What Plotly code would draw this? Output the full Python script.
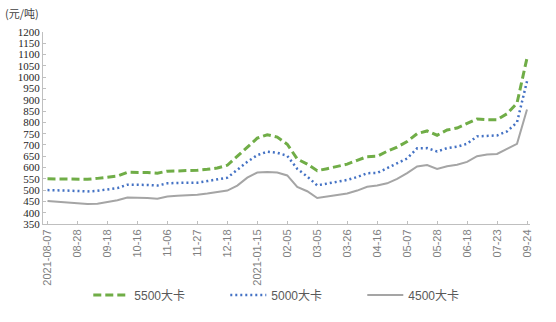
import plotly.graph_objects as go

# Weekly thermal coal prices (元/吨) by calorific grade
tick_labels = ["2021-08-07", "08-28", "09-18", "10-16", "11-06", "11-27", "12-18",
               "2021-01-15", "02-05", "03-05", "03-26", "04-16", "05-07", "05-28",
               "06-18", "07-23", "09-24"]

kcal_5500 = [550, 550, 550, 550, 548, 552, 557, 562, 579, 579, 578, 575, 584, 585,
             585, 588, 592, 598, 610, 650, 690, 730, 745, 735, 703, 638, 615, 586,
             595, 605, 615, 632, 648, 650, 672, 690, 715, 750, 762, 743, 766, 775,
             795, 815, 812, 812, 838, 885, 1085]
kcal_5000 = [500, 500, 498, 496, 494, 497, 502, 509, 524, 524, 523, 520, 530, 532,
             532, 533, 540, 546, 555, 590, 625, 655, 670, 665, 652, 594, 560, 521,
             528, 536, 545, 558, 575, 576, 598, 618, 640, 685, 686, 671, 686, 692,
             705, 738, 740, 742, 760, 800, 982]
kcal_4500 = [452, 448, 445, 442, 438, 440, 447, 455, 467, 467, 465, 462, 472, 475,
             477, 480, 485, 490, 498, 520, 555, 578, 580, 578, 565, 514, 495, 465,
             470, 478, 485, 498, 515, 520, 530, 550, 575, 605, 611, 594, 606, 612,
             625, 650, 658, 660, 683, 705, 857]

x = list(range(len(kcal_5500)))
tick_vals = x[::3]

fig = go.Figure()
fig.add_trace(go.Scatter(x=x, y=kcal_5500, mode="lines", name="5500大卡",
                         line=dict(color="#70AD47", width=3, dash="8px,4px")))
fig.add_trace(go.Scatter(x=x, y=kcal_5000, mode="lines", name="5000大卡",
                         line=dict(color="#4472C4", width=2.5, dash="2px,3px")))
fig.add_trace(go.Scatter(x=x, y=kcal_4500, mode="lines", name="4500大卡",
                         line=dict(color="#A5A5A5", width=2)))

fig.update_layout(
    width=556, height=322,
    margin=dict(l=43, r=26, t=32, b=96),
    plot_bgcolor="white", paper_bgcolor="white",
    showlegend=True,
    legend=dict(orientation="h", x=0.093, y=-0.37, xanchor="left", yanchor="middle",
                font=dict(family="Liberation Sans, Noto Sans CJK SC", size=12, color="#595959"),
                entrywidth=86, entrywidthmode="pixels", itemwidth=36,
                bgcolor="rgba(0,0,0,0)"),
    xaxis=dict(range=[-0.45, 48.3], tickmode="array", tickvals=tick_vals,
               ticktext=tick_labels, tickangle=-90, showgrid=False, zeroline=False,
               showline=True, linecolor="#BFBFBF", linewidth=1,
               ticks="inside", ticklen=3, tickcolor="#BFBFBF",
               tickfont=dict(family="Liberation Sans", size=11, color="#7F7F7F")),
    yaxis=dict(range=[350, 1200], dtick=50, tick0=350, showgrid=False, zeroline=False,
               showline=True, linecolor="#BFBFBF", linewidth=1,
               ticks="inside", ticklen=3, tickcolor="#BFBFBF",
               tickfont=dict(family="Liberation Serif", size=11, color="#262626")),
    annotations=[dict(text="(元/吨)", xref="paper", yref="paper", x=-0.043, y=1.1,
                      xanchor="center", yanchor="middle", showarrow=False,
                      font=dict(family="Noto Sans CJK SC", size=11, color="#404040"))],
)

fig.write_html("out.html")
